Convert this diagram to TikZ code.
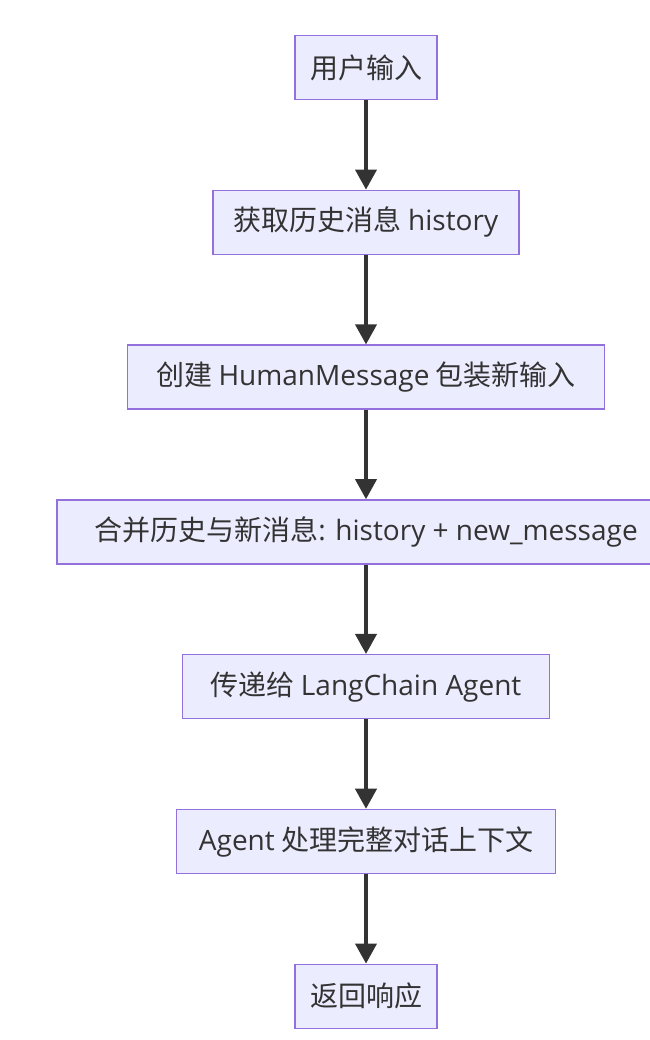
\documentclass[tikz,border=0pt]{standalone}
\usepackage{fontspec}
\setmainfont{Noto Sans CJK SC}
\newfontfamily\latn{Open Sans}
\usepackage{xcolor}
\usetikzlibrary{arrows.meta,positioning}
\definecolor{boxfill}{HTML}{ECECFF}
\definecolor{boxline}{HTML}{9370DB}
\definecolor{ink}{HTML}{333333}
\tikzset{
  flowbox/.style={draw=boxline,fill=boxfill,line width=1.1pt,
                  minimum height=48pt,inner xsep=10.5pt,
                  align=center,text=ink,font=\fontsize{21}{24}\selectfont},
  flowarr/.style={-{Triangle[length=15pt,width=16pt]},line width=2.3pt,color=ink}
}

\begin{document}
\begin{tikzpicture}[node distance=67pt]
  \useasboundingbox (0,0) rectangle (487.5pt,-780pt);
  \node[flowbox,minimum width=106.5pt] (input) at (274.5pt,-50.6pt) {用户输入};
  \node[flowbox,minimum width=229.5pt,below=of input] (hist) {获取历史消息 {\latn history}};
  \node[flowbox,minimum width=357.75pt,below=of hist] (human) {创建 {\latn HumanMessage} 包装新输入};
  \node[flowbox,minimum width=463.5pt,below=of human] (merge) {合并历史与新消息{\latn : history + new\_message}};
  \node[flowbox,minimum width=275.25pt,below=of merge] (agent) {传递给 {\latn LangChain Agent}};
  \node[flowbox,minimum width=284.25pt,below=of agent] (proc) {{\latn Agent} 处理完整对话上下文};
  \node[flowbox,minimum width=106.5pt,below=of proc] (resp) {返回响应};
  % arrows down the chain
  \draw[flowarr] (input) -- (hist);
  \draw[flowarr] (hist) -- (human);
  \draw[flowarr] (human) -- (merge);
  \draw[flowarr] (merge) -- (agent);
  \draw[flowarr] (agent) -- (proc);
  \draw[flowarr] (proc) -- (resp);
\end{tikzpicture}
\end{document}
